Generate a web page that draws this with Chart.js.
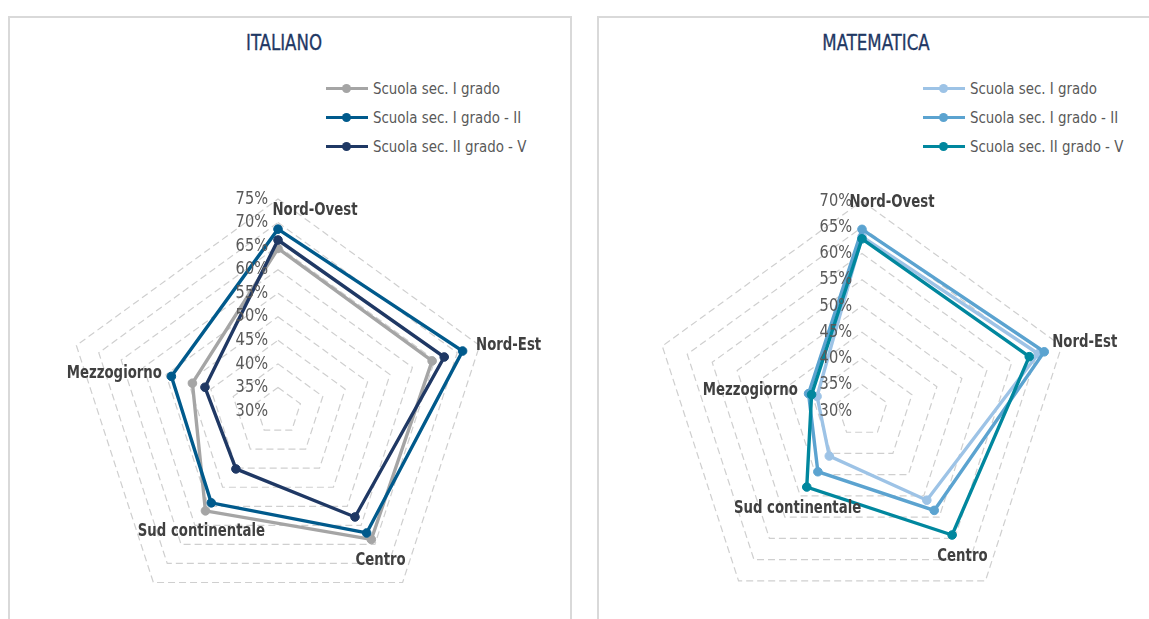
<!DOCTYPE html>
<html>
<head>
<meta charset="utf-8">
<script src="https://cdn.jsdelivr.net/npm/chart.js@4.4.1/dist/chart.umd.min.js"></script>
<style>
  body { margin: 0; background: #fff; width: 1149px; height: 619px; overflow: hidden; position: relative;
         font-family: 'Liberation Sans Narrow', 'DejaVu Sans Condensed', Roboto, sans-serif; }
  .panel { position: absolute; top: 16px; height: 700px; border: 2px solid #d9d9d9; box-sizing: border-box; background: #fff; }
  .title { position: absolute; top: 31px; width: 300px; text-align: center; font-size: 21px; color: #1f3864; line-height: 24px;
           transform: scaleX(0.88); -webkit-text-stroke: 0.3px #1f3864; }
  .legend { position: absolute; top: 74px; font-size: 16px; color: #595959; }
  .legend .row { height: 29px; display: flex; align-items: center; }
  .legend .sw { position: relative; width: 42px; height: 3px; margin-right: 5px; flex: none; }
  .legend .sw i { position: absolute; left: 16px; top: -3px; width: 9px; height: 9px; border-radius: 50%; }
  .legend .tx { display: inline-block; transform: scaleX(0.93); transform-origin: left center; white-space: nowrap; }
  canvas { position: absolute; top: 0; }
</style>
</head>
<body>
<div class="panel" style="left:8px;width:564px"></div>
<div class="panel" style="left:597px;width:600px"></div>
<div class="title" style="left:134px">ITALIANO</div>
<div class="title" style="left:726px">MATEMATICA</div>
<div class="legend" id="leg1" style="left:326px"></div>
<div class="legend" id="leg2" style="left:923px"></div>
<canvas id="c1" width="580" height="680" style="left:0"></canvas>
<canvas id="c2" width="564" height="680" style="left:585px"></canvas>
<script>
const FONT = "'Liberation Sans Narrow', 'DejaVu Sans Condensed', Roboto, sans-serif";

const areas = ['Nord-Ovest', 'Nord-Est', 'Centro', 'Sud continentale', 'Mezzogiorno'];
const seriesNames = ['Scuola sec. I grado', 'Scuola sec. I grado - II', 'Scuola sec. II grado - V'];

// ITALIANO (%)
const itaSec1 = [64.5, 64.4, 63.7, 56.2, 49.1];
const itaSec1II = [68.6, 71.2, 62.0, 54.1, 53.8];
const itaSec2V = [66.3, 67.1, 57.8, 45.2, 46.3];

// MATEMATICA (%)
const matSec1 = [63.2, 65.3, 51.0, 40.6, 39.0];
const matSec1II = [64.6, 66.5, 53.4, 44.3, 40.7];
const matSec2V = [62.8, 63.5, 59.2, 47.9, 40.1];

// axis ranges
const itaMin = 30, itaMax = 75;
const matMin = 30, matMax = 70;

// squeezed text, the original uses a condensed face
function squeezed(ctx, txt, x, y, sx) {
  ctx.save();
  ctx.translate(x, y);
  ctx.scale(sx, 1);
  ctx.fillText(txt, 0, 0);
  ctx.restore();
}

const labelsPlugin = {
  id: 'radarText',
  afterDatasetsDraw(chart, args, opts) {
    const s = chart.scales.r;
    const ctx = chart.ctx;
    ctx.save();
    ctx.textBaseline = 'middle';
    ctx.font = '18px ' + FONT;
    ctx.fillStyle = '#595959';
    ctx.textAlign = 'right';
    s.ticks.forEach(t => {
      const y = s.yCenter - s.getDistanceFromCenterForValue(t.value);
      squeezed(ctx, t.value + '%', s.xCenter - 10, y, 0.9);
    });
    ctx.font = 'bold 18px ' + FONT;
    ctx.fillStyle = '#404040';
    ctx.textAlign = 'center';
    chart.data.labels.forEach((lab, i) => {
      const p = s.getPointPosition(i, s.drawingArea);
      const o = opts.offsets[i];
      squeezed(ctx, lab, p.x + o[0], p.y + o[1], 0.82);
    });
    ctx.restore();
  }
};

function makeRadar(id, legId, values, colors, min, max, offsets) {
  const chart = new Chart(document.getElementById(id), {
    type: 'radar',
    data: {
      labels: areas,
      datasets: values.map((v, i) => ({
        label: seriesNames[i],
        data: v,
        borderColor: colors[i],
        backgroundColor: colors[i],
        pointBackgroundColor: colors[i],
        pointBorderColor: colors[i],
        borderWidth: 3.4,
        pointRadius: 4.3,
        pointBorderWidth: 1,
        fill: false,
        order: 3 - i
      }))
    },
    options: {
      responsive: false,
      animation: false,
      layout: { padding: id === 'c1'
        ? { left: 66, right: 90, top: 199, bottom: 57 }
        : { left: 67, right: 77, top: 201, bottom: 59 } },
      plugins: {
        legend: { display: false },
        tooltip: { enabled: false },
        radarText: { offsets: offsets }
      },
      scales: {
        r: {
          min: min,
          max: max,
          ticks: { stepSize: 5, display: false },
          pointLabels: { display: false },
          angleLines: { display: false },
          grid: { color: '#cfcfcf', lineWidth: 1.2 },
          border: { dash: [7, 4] }
        }
      }
    },
    plugins: [labelsPlugin]
  });

  const leg = document.getElementById(legId);
  chart.data.datasets.forEach(ds => {
    const row = document.createElement('div');
    row.className = 'row';
    row.innerHTML = '<span class="sw" style="background:' + ds.borderColor + '"><i style="background:' +
      ds.borderColor + '"></i></span><span class="tx">' + ds.label + '</span>';
    leg.appendChild(row);
  });
}

makeRadar('c1', 'leg1', [itaSec1, itaSec1II, itaSec2V], ['#a5a5a5', '#005a8c', '#1f3864'],
  itaMin, itaMax, [[37, 11], [29, 0], [-22, -22], [48, -51], [38, 28]]);
makeRadar('c2', 'leg2', [matSec1, matSec1II, matSec2V], ['#9dc3e6', '#5ba3d0', '#00879e'],
  matMin, matMax, [[30, 1], [23, -4], [-23, -25], [59, -73], [88, 44]]);
</script>
</body>
</html>
